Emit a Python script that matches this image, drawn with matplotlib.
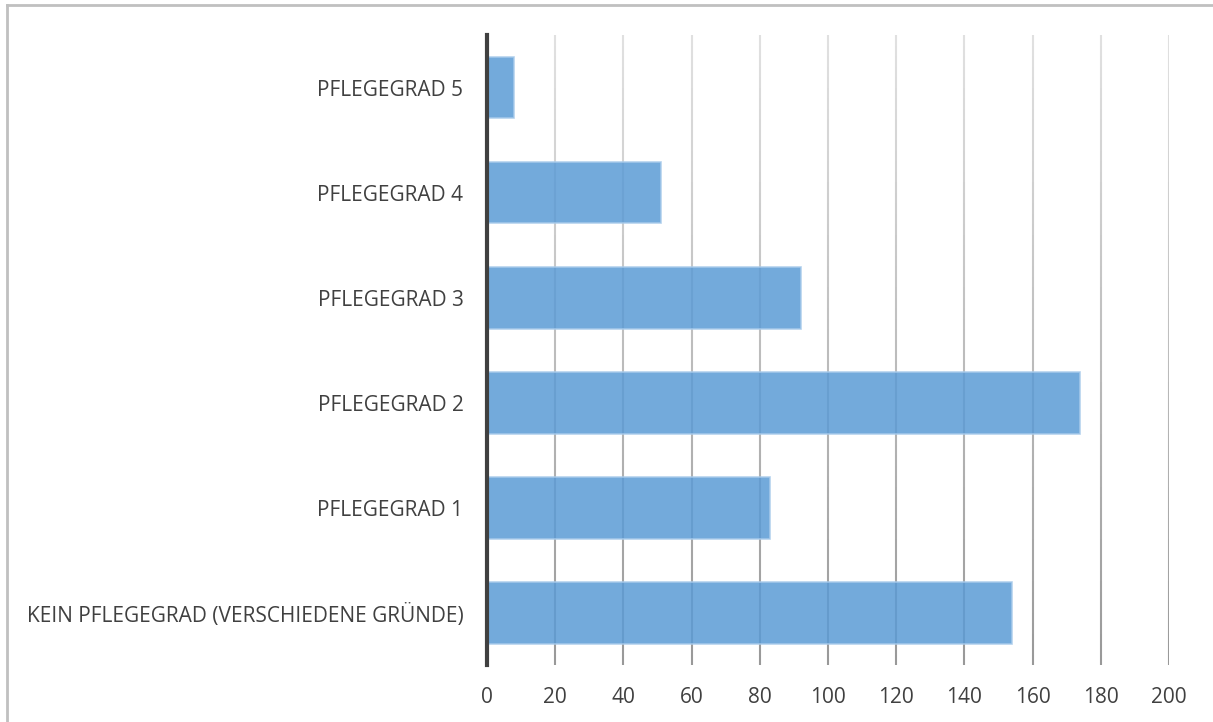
import numpy as np
import matplotlib.pyplot as plt
from matplotlib.collections import LineCollection
from matplotlib.lines import Line2D

# Anzahl Personen je Pflegegrad
kategorien = ["KEIN PFLEGEGRAD (VERSCHIEDENE GRÜNDE)", "PFLEGEGRAD 1", "PFLEGEGRAD 2",
              "PFLEGEGRAD 3", "PFLEGEGRAD 4", "PFLEGEGRAD 5"]
anzahl = [154, 83, 174, 92, 51, 8]
x_ticks = [0, 20, 40, 60, 80, 100, 120, 140, 160, 180, 200]

plt.rcParams['font.family'] = ['Open Sans', 'DejaVu Sans']

fig = plt.figure(figsize=(12.13, 7.22), dpi=100)
ax = fig.add_axes([0.4015, 0.0789, 0.5622, 0.8726])

y = np.arange(len(kategorien))
ax.barh(y, anzahl, height=0.59, color="#5b9bd5", alpha=0.85,
        edgecolor="#a9cbeb", linewidth=1.2, zorder=3)

ax.set_xlim(0, 200)
ax.set_ylim(-0.5, len(kategorien) - 0.5)
ax.set_xticks(x_ticks)
ax.set_yticks(y)
ax.set_yticklabels(kategorien)
ax.tick_params(axis="both", length=0, labelsize=15, labelcolor="#404040")
ax.tick_params(axis="y", pad=17)
ax.tick_params(axis="x", pad=16)

for s in ["top", "right", "bottom"]:
    ax.spines[s].set_visible(False)
ax.spines["left"].set_color("#404040")
ax.spines["left"].set_linewidth(3)
ax.spines["left"].set_zorder(5)

# Gitterlinien mit Verlauf (oben hell, unten dunkler)
n = 60
stufen = np.linspace(1, 0, n + 1)
trans = ax.get_xaxis_transform()
for xt in x_ticks[1:]:
    segs = [[(xt, stufen[i]), (xt, stufen[i + 1])] for i in range(n)]
    grau = np.linspace(0.88, 0.60, n)
    farben = [(g, g, g) for g in grau]
    lc = LineCollection(segs, colors=farben, linewidths=1.5, transform=trans, zorder=1)
    ax.add_collection(lc)

# Rahmen oben und links
fig.add_artist(Line2D([0.0058, 1.0], [0.993, 0.993], color="#c0c0c0", linewidth=2))
fig.add_artist(Line2D([0.0058, 0.0058], [0.0, 0.993], color="#c0c0c0", linewidth=2))

fig.savefig("out.png", dpi=100)
